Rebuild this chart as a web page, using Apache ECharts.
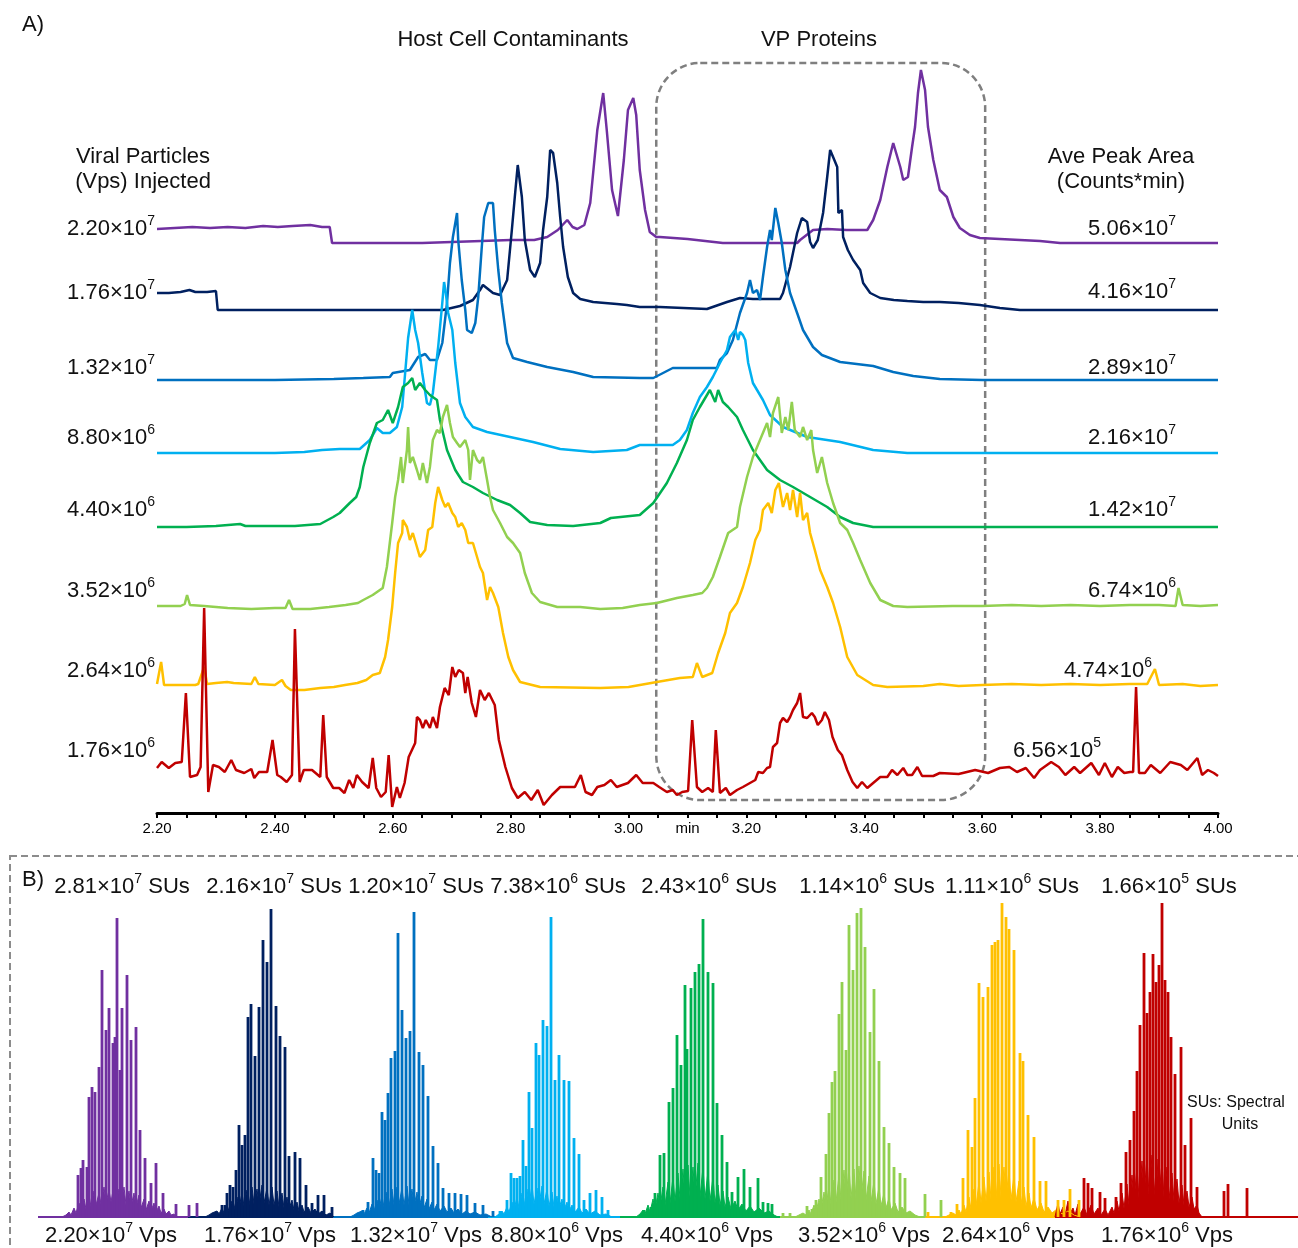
<!DOCTYPE html>
<html>
<head>
<meta charset="utf-8">
<title>Chromatograms and mass spectra</title>
<script src="https://cdn.jsdelivr.net/npm/echarts@6/dist/echarts.min.js"></script>
<style>
  html, body { margin: 0; padding: 0; background: #fff; }
  #main { width: 1298px; height: 1248px; }
</style>
</head>
<body>
<div id="main"></div>
<script>
var FONT = '"Liberation Sans", Arial, sans-serif';
var colors = ['#7030A0', '#002060', '#0070C0', '#00B0F0', '#00B050', '#92D050', '#FFC000', '#C00000'];

// amounts injected, peak areas and spectral units (mantissa, exponent)
var injected = [['2.20', 7], ['1.76', 7], ['1.32', 7], ['8.80', 6], ['4.40', 6], ['3.52', 6], ['2.64', 6], ['1.76', 6]];
var peakArea = [['5.06', 7], ['4.16', 7], ['2.89', 7], ['2.16', 7], ['1.42', 7], ['6.74', 6], ['4.74', 6], ['6.56', 5]];
var spectralUnits = [['2.81', 7], ['2.16', 7], ['1.20', 7], ['7.38', 6], ['2.43', 6], ['1.14', 6], ['1.11', 6], ['1.66', 5]];

// vertical offset of each stacked chromatogram
var traceOffset = [570, 503, 433, 360, 286, 207, 127, 43];

// chromatograms: [time (min), signal]
var tic220e7 = [[2.200,14],[2.230,15],[2.260,16],[2.290,15],[2.320,16],[2.350,15],[2.380,17],[2.405,16],[2.430,17],[2.460,18],[2.480,16],[2.493,16],[2.497,0],[2.550,0],[2.600,0],[2.650,0],[2.700,1],[2.750,2],[2.800,3],[2.840,3],[2.862,6],[2.880,13],[2.896,23],[2.905,16],[2.913,14],[2.925,18],[2.935,40],[2.947,113],[2.957,150],[2.963,113],[2.972,53],[2.982,27],[2.992,83],[2.999,133],[3.008,145],[3.013,128],[3.019,73],[3.028,33],[3.036,11],[3.047,6],[3.053,6],[3.100,4],[3.160,0],[3.286,0],[3.291,3],[3.313,13],[3.337,14],[3.370,13],[3.405,13],[3.415,23],[3.427,43],[3.439,76],[3.449,100],[3.461,76],[3.466,63],[3.474,66],[3.481,96],[3.486,116],[3.491,150],[3.496,173],[3.503,153],[3.508,116],[3.517,83],[3.528,53],[3.540,46],[3.551,26],[3.562,15],[3.579,8],[3.596,5],[3.630,4],[3.698,2],[3.732,0],[4.000,0]];
var tic176e7 = [[2.200,17],[2.220,17],[2.240,18],[2.255,20],[2.265,18],[2.285,18],[2.300,19],[2.303,0],[2.400,0],[2.500,0],[2.600,0],[2.685,0],[2.714,4],[2.736,10],[2.748,20],[2.753,25],[2.770,17],[2.782,15],[2.794,30],[2.802,80],[2.807,113],[2.812,145],[2.819,113],[2.824,70],[2.833,40],[2.841,33],[2.850,47],[2.855,80],[2.862,113],[2.867,160],[2.872,157],[2.879,127],[2.884,93],[2.889,63],[2.897,33],[2.906,17],[2.918,11],[2.940,8],[2.960,7],[2.980,6],[2.997,5],[3.019,3],[3.053,3],[3.133,1],[3.167,8],[3.189,12],[3.211,11],[3.257,11],[3.262,17],[3.274,43],[3.286,77],[3.294,92],[3.303,88],[3.308,68],[3.313,62],[3.321,70],[3.330,97],[3.337,133],[3.342,160],[3.347,153],[3.354,143],[3.356,97],[3.362,100],[3.364,73],[3.372,60],[3.381,50],[3.393,40],[3.398,27],[3.410,17],[3.427,12],[3.450,10],[3.473,9],[3.500,8],[3.528,8],[3.560,7],[3.596,5],[3.630,2],[3.664,0],[4.000,0]];
var tic132e7 = [[2.200,0],[2.300,0],[2.400,0],[2.500,1],[2.550,2],[2.595,3],[2.600,7],[2.629,10],[2.643,23],[2.655,26],[2.663,20],[2.675,20],[2.684,37],[2.692,77],[2.697,117],[2.702,143],[2.709,167],[2.711,140],[2.717,100],[2.723,70],[2.726,50],[2.734,47],[2.740,57],[2.745,83],[2.751,133],[2.755,163],[2.762,177],[2.770,177],[2.773,150],[2.779,110],[2.785,77],[2.794,37],[2.804,22],[2.828,18],[2.862,13],[2.906,8],[2.940,3],[3.019,2],[3.042,2],[3.075,12],[3.092,12],[3.150,12],[3.155,20],[3.167,27],[3.177,40],[3.189,67],[3.201,87],[3.206,100],[3.211,87],[3.218,90],[3.223,80],[3.228,103],[3.235,133],[3.240,150],[3.243,140],[3.249,172],[3.254,157],[3.260,137],[3.266,110],[3.274,87],[3.286,67],[3.296,50],[3.313,33],[3.328,25],[3.359,18],[3.415,14],[3.449,8],[3.483,4],[3.528,1],[3.600,0],[4.000,0]];
var tic880e6 = [[2.200,0],[2.300,0],[2.400,0],[2.450,1],[2.480,3],[2.510,4],[2.544,4],[2.561,13],[2.573,25],[2.583,20],[2.595,20],[2.607,26],[2.616,46],[2.621,80],[2.626,115],[2.633,143],[2.638,123],[2.643,110],[2.650,80],[2.658,50],[2.663,48],[2.668,60],[2.677,106],[2.684,150],[2.687,171],[2.690,160],[2.694,140],[2.701,123],[2.706,90],[2.714,50],[2.723,36],[2.736,26],[2.760,21],[2.799,16],[2.838,11],[2.884,4],[2.940,1],[2.997,3],[3.019,8],[3.075,8],[3.087,13],[3.099,23],[3.109,40],[3.121,56],[3.133,66],[3.143,76],[3.155,90],[3.167,103],[3.172,116],[3.181,123],[3.186,113],[3.189,121],[3.194,118],[3.198,113],[3.203,90],[3.211,70],[3.228,53],[3.240,38],[3.262,26],[3.303,16],[3.359,11],[3.415,3],[3.473,0],[4.000,0]];
var tic440e6 = [[2.200,0],[2.250,0],[2.300,1],[2.341,3],[2.350,1],[2.400,1],[2.434,1],[2.477,3],[2.499,10],[2.510,14],[2.527,24],[2.538,30],[2.544,40],[2.550,60],[2.561,84],[2.573,104],[2.583,107],[2.592,117],[2.600,104],[2.609,120],[2.617,140],[2.626,144],[2.633,149],[2.638,137],[2.646,144],[2.655,137],[2.663,132],[2.675,127],[2.680,107],[2.692,77],[2.706,57],[2.719,45],[2.736,40],[2.753,34],[2.777,27],[2.799,22],[2.816,14],[2.833,5],[2.862,2],[2.906,1],[2.952,4],[2.970,9],[3.019,12],[3.042,24],[3.065,44],[3.082,64],[3.099,87],[3.109,107],[3.121,120],[3.133,132],[3.138,137],[3.147,125],[3.152,137],[3.160,125],[3.169,120],[3.184,110],[3.194,97],[3.211,77],[3.235,57],[3.257,47],[3.279,40],[3.308,30],[3.337,20],[3.359,10],[3.381,4],[3.415,0],[4.000,0]];
var tic352e6 = [[2.200,0],[2.240,0],[2.247,2],[2.251,11],[2.256,1],[2.280,0],[2.320,-2],[2.360,-3],[2.400,-2],[2.418,-2],[2.424,6],[2.430,-3],[2.460,-3],[2.492,-1],[2.520,1],[2.541,3],[2.550,6],[2.566,11],[2.583,18],[2.590,39],[2.599,83],[2.604,109],[2.609,126],[2.614,149],[2.617,123],[2.624,156],[2.626,179],[2.629,143],[2.634,149],[2.641,136],[2.646,126],[2.651,143],[2.658,123],[2.663,139],[2.668,166],[2.675,176],[2.680,173],[2.685,189],[2.692,201],[2.697,183],[2.702,169],[2.709,163],[2.714,159],[2.723,166],[2.728,156],[2.731,126],[2.736,156],[2.743,146],[2.748,143],[2.753,149],[2.760,126],[2.765,109],[2.770,96],[2.782,83],[2.794,69],[2.804,63],[2.816,53],[2.824,33],[2.836,13],[2.850,4],[2.879,-1],[2.918,-1],[2.952,-3],[2.990,-2],[3.019,1],[3.048,3],[3.082,8],[3.109,11],[3.125,13],[3.133,18],[3.143,29],[3.155,49],[3.169,73],[3.184,79],[3.189,99],[3.201,129],[3.211,149],[3.223,166],[3.235,183],[3.240,169],[3.245,193],[3.254,209],[3.260,173],[3.266,189],[3.271,176],[3.277,204],[3.282,176],[3.291,169],[3.296,179],[3.303,166],[3.310,176],[3.313,156],[3.320,133],[3.328,149],[3.337,123],[3.347,103],[3.359,83],[3.371,76],[3.381,63],[3.393,46],[3.410,23],[3.427,6],[3.449,0],[3.473,-1],[3.550,0],[3.600,0],[3.650,1],[3.700,0],[3.750,1],[3.800,0],[3.850,1],[3.900,1],[3.928,0],[3.933,18],[3.940,1],[3.970,0],[4.000,1]];
var tic264e6 = [[2.200,2],[2.203,3],[2.207,24],[2.212,1],[2.240,1],[2.265,1],[2.270,2],[2.280,19],[2.285,2],[2.300,3],[2.319,4],[2.330,3],[2.360,2],[2.366,9],[2.372,2],[2.400,1],[2.412,6],[2.418,0],[2.427,-4],[2.450,-4],[2.477,-2],[2.500,-1],[2.519,1],[2.540,3],[2.555,6],[2.566,11],[2.578,13],[2.587,29],[2.592,46],[2.599,79],[2.604,113],[2.609,143],[2.616,153],[2.617,166],[2.624,159],[2.629,146],[2.634,153],[2.641,139],[2.646,129],[2.655,136],[2.660,156],[2.667,159],[2.672,183],[2.677,199],[2.684,186],[2.689,179],[2.694,183],[2.701,173],[2.706,169],[2.711,159],[2.717,163],[2.723,156],[2.728,143],[2.736,143],[2.743,129],[2.748,119],[2.753,113],[2.760,86],[2.765,99],[2.770,93],[2.779,79],[2.787,53],[2.796,29],[2.804,16],[2.816,4],[2.850,-1],[2.952,-2],[3.000,-1],[3.048,4],[3.087,8],[3.109,9],[3.116,23],[3.125,9],[3.142,13],[3.152,33],[3.164,53],[3.172,73],[3.184,83],[3.194,99],[3.206,123],[3.215,146],[3.223,156],[3.228,176],[3.237,183],[3.243,173],[3.249,196],[3.255,203],[3.262,179],[3.269,193],[3.274,176],[3.279,196],[3.286,169],[3.291,193],[3.296,166],[3.303,173],[3.308,153],[3.316,136],[3.325,116],[3.337,99],[3.347,83],[3.359,59],[3.371,29],[3.388,11],[3.415,1],[3.439,-1],[3.500,0],[3.528,2],[3.560,0],[3.600,1],[3.650,2],[3.700,1],[3.750,2],[3.800,1],[3.850,2],[3.880,2],[3.893,17],[3.900,1],[3.940,2],[3.970,0],[4.000,1]];
var tic176e6 = [[2.200,2],[2.208,8],[2.220,2],[2.231,7],[2.242,8],[2.249,77],[2.256,-7],[2.268,-5],[2.274,3],[2.280,162],[2.287,-22],[2.295,5],[2.305,3],[2.315,-2],[2.326,10],[2.334,0],[2.348,-3],[2.360,1],[2.365,-8],[2.373,-2],[2.387,-2],[2.396,30],[2.404,-5],[2.410,-7],[2.420,-12],[2.429,-5],[2.434,141],[2.442,-12],[2.449,0],[2.463,0],[2.477,-7],[2.482,55],[2.488,-7],[2.499,-18],[2.509,-18],[2.518,-23],[2.526,-10],[2.533,-18],[2.539,-5],[2.548,-12],[2.559,-18],[2.566,12],[2.572,-18],[2.580,-27],[2.588,-22],[2.593,15],[2.599,-37],[2.607,-17],[2.612,-28],[2.620,-13],[2.627,13],[2.638,27],[2.641,53],[2.646,50],[2.651,42],[2.656,50],[2.663,42],[2.668,53],[2.675,42],[2.680,63],[2.688,82],[2.695,75],[2.701,103],[2.706,93],[2.712,100],[2.719,97],[2.723,77],[2.727,93],[2.734,67],[2.741,53],[2.748,80],[2.756,70],[2.763,77],[2.773,65],[2.780,30],[2.791,3],[2.802,-18],[2.812,-28],[2.824,-22],[2.835,-30],[2.846,-20],[2.856,-35],[2.870,-25],[2.884,-17],[2.899,-17],[2.909,-17],[2.919,-5],[2.927,-22],[2.938,-25],[2.947,-17],[2.959,-15],[2.970,-10],[2.980,-17],[2.999,-13],[3.013,-5],[3.024,-13],[3.042,-13],[3.052,-17],[3.065,-22],[3.075,-20],[3.082,-25],[3.091,-22],[3.101,-21],[3.108,50],[3.116,-17],[3.125,-22],[3.135,-18],[3.143,-22],[3.148,40],[3.155,-23],[3.165,-18],[3.172,-25],[3.184,-20],[3.194,-17],[3.206,-13],[3.215,-10],[3.220,-2],[3.228,-3],[3.235,2],[3.240,3],[3.245,23],[3.252,27],[3.257,47],[3.262,52],[3.269,48],[3.274,53],[3.279,60],[3.286,67],[3.291,77],[3.296,53],[3.303,52],[3.311,57],[3.316,53],[3.321,45],[3.328,50],[3.333,58],[3.340,50],[3.346,33],[3.355,20],[3.362,15],[3.371,0],[3.380,-12],[3.388,-18],[3.396,-12],[3.405,-18],[3.415,-13],[3.427,-7],[3.439,-7],[3.447,0],[3.456,-5],[3.466,2],[3.473,-5],[3.481,-5],[3.490,3],[3.498,-6],[3.517,-6],[3.528,-3],[3.560,-4],[3.588,0],[3.610,-3],[3.630,2],[3.646,3],[3.659,-2],[3.674,2],[3.688,-8],[3.698,0],[3.717,8],[3.730,3],[3.741,-5],[3.756,3],[3.766,-3],[3.785,7],[3.798,-5],[3.808,7],[3.820,-7],[3.830,3],[3.841,-3],[3.851,-2],[3.856,-2],[3.861,83],[3.866,-3],[3.876,-3],[3.886,5],[3.902,-3],[3.919,8],[3.937,5],[3.948,0],[3.965,12],[3.973,-5],[3.983,0],[3.993,-3],[4.000,-6]];

// mass spectra (combined display axis): [m/z position, intensity]
var ms220e7 = [[78,42],[81,49],[83,57],[87,50],[89,120],[92,130],[95,125],[99,150],[102,247],[106,187],[109,209],[113,174],[115,180],[117,299],[120,147],[122,209],[127,242],[131,177],[136,190],[140,87],[145,59],[151,34],[156,54],[163,24],[176,13],[189,12],[197,14]];
var ms176e7 = [[217,5],[222,12],[225,12],[227,24],[230,32],[233,30],[236,47],[239,92],[242,72],[245,82],[248,200],[251,213],[255,161],[259,210],[263,277],[267,255],[271,308],[276,211],[280,181],[285,170],[289,61],[295,65],[300,59],[306,32],[312,14],[318,22],[324,22],[332,10]];
var ms132e7 = [[363,7],[368,15],[373,59],[376,47],[379,44],[382,105],[385,97],[388,124],[391,159],[395,166],[398,284],[402,207],[406,179],[410,186],[414,305],[419,165],[423,152],[428,121],[433,71],[438,54],[443,29],[449,24],[455,24],[461,23],[467,22],[475,14],[483,12],[493,6]];
var ms880e6 = [[500,6],[507,17],[511,44],[514,39],[517,39],[520,41],[523,77],[526,51],[529,125],[532,89],[536,174],[539,162],[543,197],[547,191],[551,300],[555,137],[559,162],[564,137],[569,136],[574,79],[579,63],[584,17],[590,24],[596,27],[602,20],[608,7]];
var ms440e6 = [[644,7],[651,10],[655,24],[660,62],[664,64],[669,115],[673,129],[677,182],[681,152],[685,232],[687,168],[691,229],[695,245],[699,253],[703,298],[708,245],[713,234],[717,114],[722,82],[727,55],[732,25],[738,40],[744,48],[750,30],[758,39],[763,15],[768,14],[772,13]];
var ms352e6 = [[783,4],[790,4],[807,11],[812,8],[816,17],[821,40],[826,63],[829,104],[832,135],[835,146],[839,203],[842,235],[846,167],[849,292],[853,247],[857,304],[861,309],[865,270],[870,185],[874,228],[879,156],[884,90],[889,74],[894,50],[900,44],[905,39],[925,23],[941,17]];
var ms264e6 = [[928,5],[951,5],[957,13],[963,39],[968,87],[972,70],[975,119],[979,234],[983,220],[988,230],[992,272],[995,275],[998,277],[1002,314],[1006,300],[1009,288],[1014,267],[1020,164],[1023,156],[1028,102],[1034,80],[1040,36],[1046,36],[1058,17],[1064,17],[1070,28],[1079,17]];
var ms176e6 = [[1084,39],[1088,34],[1092,29],[1100,25],[1105,19],[1116,20],[1121,34],[1126,65],[1130,77],[1134,106],[1137,146],[1140,192],[1144,264],[1147,204],[1150,225],[1153,263],[1156,235],[1159,252],[1162,314],[1165,237],[1168,225],[1171,180],[1175,143],[1181,170],[1185,72],[1191,99],[1197,30],[1224,26],[1228,33],[1247,29]];

// dense low-level ions under each spectrum
var base220e7 = [[62,0],[66,2],[69,5],[71,2],[74,9],[76,4],[79,14],[81,6],[84,18],[86,8],[89,22],[91,10],[94,26],[96,12],[99,24],[101,13],[104,30],[106,14],[109,27],[111,15],[114,32],[116,14],[119,28],[121,13],[124,30],[126,12],[129,26],[131,11],[134,24],[136,10],[139,22],[141,9],[144,18],[146,7],[149,16],[151,6],[154,14],[156,5],[159,11],[161,4],[164,8],[166,3],[169,6],[171,2],[174,3],[176,0]];
var base176e7 = [[205,0],[209,2],[212,4],[214,2],[217,6],[219,3],[222,9],[224,4],[227,12],[229,6],[232,16],[234,8],[237,20],[239,9],[242,24],[244,11],[247,27],[249,12],[252,30],[254,13],[257,28],[259,12],[262,32],[264,14],[267,29],[269,12],[272,30],[274,12],[277,26],[279,10],[282,24],[284,9],[287,20],[289,8],[292,17],[294,7],[297,15],[299,6],[302,12],[304,5],[308,10],[311,4],[315,8],[318,3],[322,6],[326,2],[330,4],[334,0]];
var base132e7 = [[350,0],[354,2],[357,4],[359,2],[362,6],[364,3],[367,9],[369,4],[372,13],[374,6],[377,17],[379,8],[382,21],[384,10],[387,25],[389,11],[392,28],[394,12],[397,30],[399,13],[402,29],[404,12],[407,31],[409,12],[412,28],[414,11],[417,25],[419,10],[422,21],[424,9],[427,18],[429,8],[432,15],[434,7],[437,13],[440,6],[444,11],[447,5],[451,9],[454,4],[458,8],[462,3],[466,6],[470,3],[475,5],[480,2],[486,3],[492,0]];
var base880e6 = [[495,0],[499,3],[502,6],[504,3],[507,10],[509,5],[512,15],[514,7],[517,20],[519,9],[522,24],[524,11],[527,28],[529,12],[532,32],[534,13],[537,29],[539,12],[542,31],[544,13],[547,28],[549,11],[552,25],[554,10],[557,21],[559,9],[562,18],[564,7],[567,15],[569,6],[572,12],[575,5],[579,10],[582,4],[586,8],[590,3],[595,6],[600,2],[606,3],[612,0]];
var base440e6 = [[636,0],[640,3],[643,7],[645,3],[648,12],[650,5],[653,18],[655,8],[658,24],[660,10],[663,30],[665,12],[668,35],[670,14],[673,40],[675,16],[678,44],[680,18],[683,48],[685,19],[688,52],[690,20],[693,50],[695,19],[698,54],[700,20],[703,50],[705,18],[708,46],[710,16],[713,40],[715,14],[718,32],[720,12],[723,26],[725,10],[728,20],[731,8],[735,16],[738,7],[742,13],[746,6],[750,11],[754,5],[759,9],[764,4],[769,6],[774,2],[778,0]];
var base352e6 = [[795,0],[799,2],[803,4],[806,2],[809,7],[811,3],[814,12],[816,5],[819,18],[821,8],[824,25],[826,10],[829,31],[831,13],[834,37],[836,15],[839,42],[841,17],[844,47],[846,18],[849,50],[851,19],[854,48],[856,18],[859,51],[861,19],[864,46],[866,17],[869,41],[871,15],[874,36],[876,13],[879,30],[881,11],[884,24],[886,9],[889,19],[891,7],[895,14],[898,5],[902,10],[906,4],[910,6],[915,2],[920,0]];
var base264e6 = [[945,0],[949,2],[953,4],[956,2],[959,7],[961,3],[964,12],[966,5],[969,20],[971,8],[974,28],[976,11],[979,35],[981,14],[984,40],[986,16],[989,45],[991,18],[994,50],[996,19],[999,53],[1001,20],[1004,50],[1006,19],[1009,47],[1011,17],[1014,42],[1016,15],[1019,36],[1021,13],[1024,30],[1026,11],[1029,24],[1031,9],[1034,19],[1037,7],[1041,14],[1044,5],[1048,10],[1052,4],[1057,8],[1062,3],[1068,6],[1074,2],[1080,0]];
var base176e6 = [[1055,0],[1058,14],[1060,3],[1063,10],[1065,2],[1068,16],[1070,4],[1073,9],[1075,2],[1078,13],[1080,3],[1084,10],[1087,2],[1091,12],[1094,3],[1098,9],[1101,2],[1105,8],[1108,2],[1112,10],[1114,4],[1117,16],[1119,6],[1122,24],[1124,9],[1127,33],[1129,12],[1132,42],[1134,16],[1137,50],[1139,19],[1142,56],[1144,21],[1147,60],[1149,22],[1152,62],[1154,22],[1157,58],[1159,21],[1162,55],[1164,20],[1167,50],[1169,18],[1172,44],[1174,16],[1177,38],[1179,14],[1182,32],[1184,12],[1187,26],[1189,10],[1192,20],[1194,8],[1197,12],[1199,4],[1202,0]];

// spectral window of each acquisition
var msSpan = [[38,188],[188,333],[333,488],[488,690],[620,840],[780,925],[925,1148],[1055,1298]];

var traces = [tic220e7, tic176e7, tic132e7, tic880e6, tic440e6, tic352e6, tic264e6, tic176e6];
var spectra = [ms220e7, ms176e7, ms132e7, ms880e6, ms440e6, ms352e6, ms264e6, ms176e6];
var carpets = [base220e7, base176e7, base132e7, base880e6, base440e6, base352e6, base264e6, base176e6];

var chart = echarts.init(document.getElementById('main'));

var series = [];
traces.forEach(function (pts, i) {
    series.push({
        type: 'line', xAxisIndex: 0, yAxisIndex: 0,
        symbol: 'none', silent: true,
        lineStyle: { color: colors[i], width: 2.5 },
        data: pts.map(function (p) { return [p[0], p[1] + traceOffset[i]]; }),
        z: 3 + i
    });
});
carpets.forEach(function (pts, i) {
    series.push({
        type: 'line', xAxisIndex: 1, yAxisIndex: 1,
        symbol: 'none', silent: true,
        data: msSpan[i].map(function (x) { return [x, 0]; }),
        lineStyle: { color: colors[i], width: 2 }, z: 2
    });
    series.push({
        type: 'line', xAxisIndex: 1, yAxisIndex: 1,
        symbol: 'none', silent: true,
        data: pts,
        lineStyle: { color: colors[i], width: 1 },
        areaStyle: { color: colors[i], opacity: 1 }, z: 3
    });
});
var sticks = [];
spectra.forEach(function (pts, i) {
    pts.forEach(function (p) {
        sticks.push({ value: p, itemStyle: { color: colors[i] } });
    });
});
series.push({
    type: 'bar', xAxisIndex: 1, yAxisIndex: 1, silent: true,
    barWidth: 2.8, data: sticks, z: 4
});

chart.setOption({
    animation: false,
    grid: [
        { left: 157, right: 80, top: 63, bottom: 435 },
        { left: 0, right: 0, top: 880, bottom: 31 }
    ],
    xAxis: [{
        type: 'value', gridIndex: 0, min: 2.2, max: 4.0, interval: 0.05,
        axisLine: { show: true, onZero: false, lineStyle: { color: '#000', width: 3 } },
        axisTick: { show: true, length: 5, lineStyle: { color: '#000', width: 2 } },
        axisLabel: {
            fontSize: 15, fontFamily: FONT, color: '#000', margin: 8,
            formatter: function (v) {
                var k = Math.round(v * 100);
                if (k === 310) return 'min';
                return k % 20 === 0 ? (k / 100).toFixed(2) : '';
            }
        },
        splitLine: { show: false }
    }, {
        type: 'value', gridIndex: 1, min: 0, max: 1298, show: false
    }],
    yAxis: [
        { type: 'value', gridIndex: 0, min: 0, max: 750, show: false },
        { type: 'value', gridIndex: 1, min: 0, max: 337, show: false }
    ],
    series: series
});

function sci(v, unit) {
    return '{b|' + v[0] + '×10}{s|' + v[1] + '}' + (unit ? '{b| ' + unit + '}' : '');
}
function label(x, y, text, align) {
    return {
        type: 'text', x: x, y: y, silent: true,
        style: {
            text: text, textAlign: align, textVerticalAlign: 'middle',
            align: align, verticalAlign: 'middle',
            rich: {
                b: { fontSize: 22, fontFamily: FONT, lineHeight: 30, fill: '#111' },
                s: { fontSize: 14, fontFamily: FONT, lineHeight: 14, verticalAlign: 'top', fill: '#111' }
            }
        }
    };
}
function plain(x, y, text, size, align) {
    return {
        type: 'text', x: x, y: y, silent: true,
        style: {
            text: text, fontSize: size, fontFamily: FONT, fill: '#111',
            textAlign: align, textVerticalAlign: 'middle', align: align, verticalAlign: 'middle'
        }
    };
}

var leftLabelY = [229, 293, 368, 438, 510, 591, 671, 751];
var rightLabelX = [1176, 1176, 1176, 1176, 1176, 1176, 1152, 1101];
var rightLabelY = [229, 292, 368, 438, 510, 591, 671, 751];
var topLabelX = [122, 274, 416, 558, 709, 867, 1012, 1169];
var bottomLabelX = [111, 270, 416, 557, 707, 864, 1008, 1167];

var p0 = chart.convertToPixel({ gridIndex: 0 }, [3.047, 750]);
var p1 = chart.convertToPixel({ gridIndex: 0 }, [3.605, 13]);

var graphics = [
    plain(22, 25, 'A)', 22, 'left'),
    plain(22, 880, 'B)', 22, 'left'),
    plain(513, 40, 'Host Cell Contaminants', 22, 'center'),
    plain(819, 40, 'VP Proteins', 22, 'center'),
    plain(143, 157, 'Viral Particles', 22, 'center'),
    plain(143, 182, '(Vps) Injected', 22, 'center'),
    plain(1121, 157, 'Ave Peak Area', 22, 'center'),
    plain(1121, 182, '(Counts*min)', 22, 'center'),
    plain(1236, 1103, 'SUs: Spectral', 16, 'center'),
    plain(1240, 1125, 'Units', 16, 'center'),
    {
        type: 'rect', silent: true, z: 1,
        shape: { x: p0[0], y: p0[1], width: p1[0] - p0[0], height: p1[1] - p0[1], r: 44 },
        style: { fill: 'none', stroke: '#7F7F7F', lineWidth: 2.5, lineDash: [7, 4] }
    },
    {
        type: 'rect', silent: true, z: 1,
        shape: { x: 10, y: 856, width: 1320, height: 420 },
        style: { fill: 'none', stroke: '#8C8C8C', lineWidth: 2, lineDash: [7, 4] }
    }
];
injected.forEach(function (v, i) {
    graphics.push(label(155, leftLabelY[i], sci(v), 'right'));
    graphics.push(label(bottomLabelX[i], 1236, sci(v, 'Vps'), 'center'));
});
peakArea.forEach(function (v, i) {
    graphics.push(label(rightLabelX[i], rightLabelY[i], sci(v), 'right'));
});
spectralUnits.forEach(function (v, i) {
    graphics.push(label(topLabelX[i], 887, sci(v, 'SUs'), 'center'));
});

chart.setOption({ graphic: graphics });

window.onresize = function () {
    chart.resize();
};
</script>
</body>
</html>
